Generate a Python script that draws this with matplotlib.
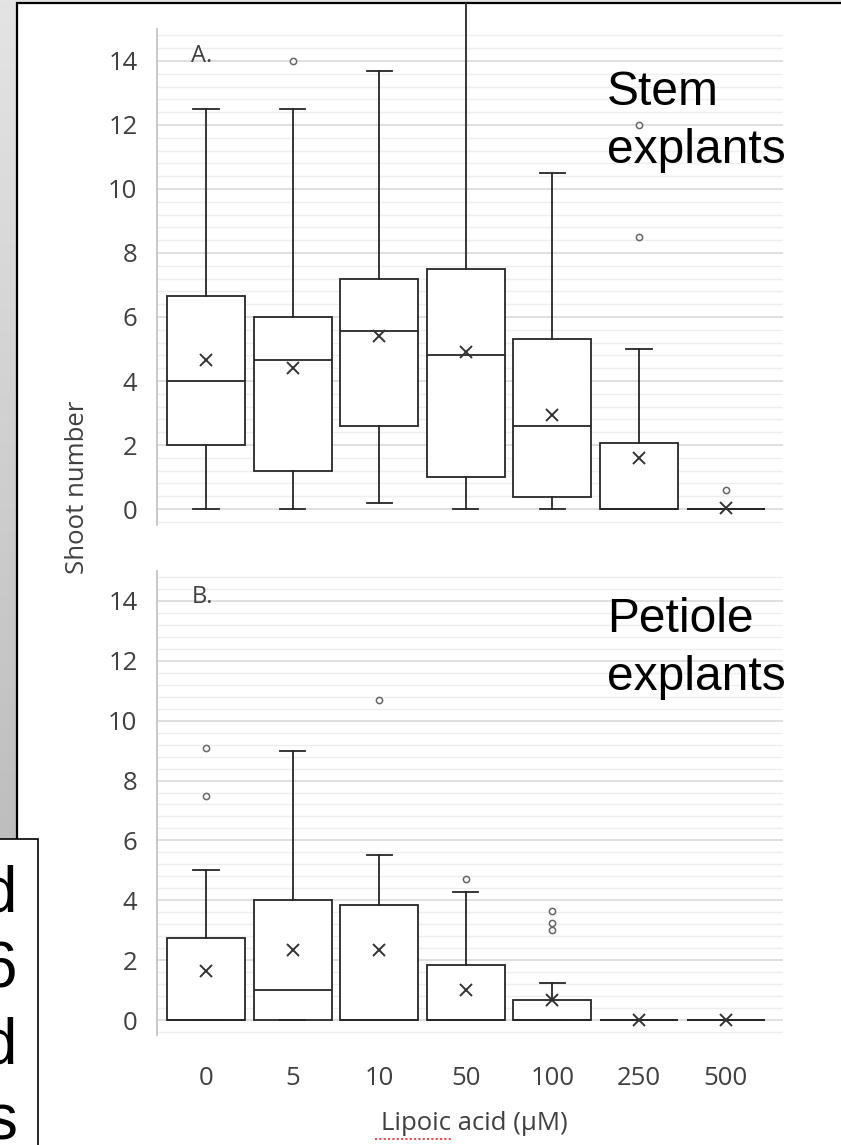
import matplotlib.pyplot as plt
import numpy as np
from matplotlib.patches import Rectangle
from matplotlib.ticker import MultipleLocator

# lipoic acid concentrations (uM)
concentrations = ['0', '5', '10', '50', '100', '250', '500']

# A. stem explants - box plot summary
stem_whislo = [0, 0, 0.2, 0, 0, 0, 0]
stem_q1 = [2.0, 1.2, 2.6, 1.0, 0.38, 0, 0]
stem_med = [4.0, 4.65, 5.55, 4.8, 2.6, 0, 0]
stem_q3 = [6.65, 6.0, 7.2, 7.5, 5.3, 2.05, 0]
stem_whishi = [12.5, 12.5, 13.7, 15.8, 10.5, 5.0, 0]
stem_mean = [4.65, 4.4, 5.4, 4.9, 2.95, 1.6, 0.04]
stem_fliers = [[], [14.0], [], [], [], [8.5, 12.0], [0.6]]

# B. petiole explants
pet_whislo = [0, 0, 0, 0, 0, 0, 0]
pet_q1 = [0, 0, 0, 0, 0, 0, 0]
pet_med = [0, 1.0, 0, 0, 0, 0, 0]
pet_q3 = [2.75, 4.0, 3.85, 1.85, 0.67, 0, 0]
pet_whishi = [5.0, 9.0, 5.5, 4.28, 1.25, 0, 0]
pet_mean = [1.65, 2.35, 2.35, 1.0, 0.67, 0, 0]
pet_fliers = [[7.5, 9.1], [], [10.7], [4.7], [3.0, 3.25, 3.65], [], []]

W, H = 841, 1145
FONT = 'Open Sans'
TXT = '#404040'

fig = plt.figure(figsize=(W / 100, H / 100), dpi=100)

# slide background / frame (pixel coords)
bg = fig.add_axes([0, 0, 1, 1], zorder=-10)
bg.set_xlim(0, W)
bg.set_ylim(H, 0)
bg.axis('off')
grad = np.linspace(0, 1, 256).reshape(-1, 1)
bg.imshow(grad, cmap=plt.matplotlib.colors.LinearSegmentedColormap.from_list('g', ['#e4e4e4', '#bebebe']),
          extent=[0, W, 840, 0], aspect='auto')
bg.add_patch(Rectangle((17, 3), W, H, facecolor='white', edgecolor='black', lw=1.6))
box = Rectangle((-5, 839), 43, 320, facecolor='white', edgecolor='black', lw=1.2, zorder=5)
bg.add_patch(box)
for letter, yb in zip(['d', '6', 'd', 's'], [912, 988, 1064, 1140]):
    t = bg.text(17, yb, letter, ha='right', va='baseline', fontsize=46,
                family='Liberation Sans', color='black', zorder=6)
    t.set_clip_path(box)
bg.plot([375, 452], [1139, 1139], color='#e04040', lw=1.3, ls=(0, (1.2, 1.2)))


def px(x, y):
    return x / W, 1 - y / H


# panel captions drawn above the gridlines
for txt, yb in [('Stem', 105), ('explants', 163), ('Petiole', 632), ('explants', 690)]:
    fig.text(*px(607, yb), txt, va='baseline', fontsize=34.5, family='Liberation Sans',
             color='black', zorder=20)

x_left, x_width = 157 / W, 626 / W
ax_a = fig.add_axes([x_left, 1 - 525 / H, x_width, 496 / H])
ax_b = fig.add_axes([x_left, 1 - 1035 / H, x_width, 464 / H])

panels = [
    (ax_a, 'A.', stem_whislo, stem_q1, stem_med, stem_q3, stem_whishi, stem_mean, stem_fliers),
    (ax_b, 'B.', pet_whislo, pet_q1, pet_med, pet_q3, pet_whishi, pet_mean, pet_fliers),
]

for ax, tag, wlo, q1, med, q3, whi, mean, fl in panels:
    stats = [dict(whislo=wlo[i], q1=q1[i], med=med[i], q3=q3[i], whishi=whi[i],
                  mean=mean[i], fliers=fl[i]) for i in range(len(concentrations))]
    art = ax.bxp(stats, positions=range(len(concentrations)), widths=0.9, capwidths=0.29,
                 showmeans=True, patch_artist=True,
                 boxprops=dict(facecolor='white', edgecolor='#262626', lw=1.3),
                 medianprops=dict(color='#262626', lw=1.3),
                 whiskerprops=dict(color='#262626', lw=1.3),
                 capprops=dict(color='#262626', lw=1.3),
                 meanprops=dict(marker='x', markersize=9, markeredgecolor='#333333',
                                markeredgewidth=1.4),
                 flierprops=dict(marker='o', markersize=4.5, markerfacecolor='white',
                                 markeredgecolor='#666666', markeredgewidth=1.1))
    for w in art['whiskers']:
        w.set_clip_on(False)
    ax.set_xlim(-0.566, 6.663)
    ax.set_ylim(-0.5, 15)
    ax.yaxis.set_major_locator(MultipleLocator(2))
    ax.yaxis.set_minor_locator(MultipleLocator(0.4))
    ax.set_yticks(range(0, 15, 2))
    ax.grid(which='major', axis='y', color='#d9d9d9', lw=1.2)
    ax.grid(which='minor', axis='y', color='#eeeeee', lw=1.0)
    ax.set_axisbelow(True)
    for s in ['top', 'right', 'bottom']:
        ax.spines[s].set_visible(False)
    ax.spines['left'].set_color('#bfbfbf')
    ax.spines['left'].set_linewidth(1.2)
    ax.tick_params(which='both', length=0)
    ax.tick_params(axis='y', pad=14, labelsize=18.5, labelcolor=TXT)
    for lab in ax.get_yticklabels():
        lab.set_family(FONT)
    ax.set_facecolor('none')
    ax.text(0.055, 0.97, tag, transform=ax.transAxes,
            fontsize=17, family=FONT, color=TXT, va='top')

ax_a.set_xticks([])
ax_b.set_xticks(range(len(concentrations)))
ax_b.set_xticklabels(concentrations, family=FONT, fontsize=18.5, color=TXT)
ax_b.tick_params(axis='x', pad=22)

fig.text(*px(77, 487), 'Shoot number', rotation=90, ha='center', va='center',
         fontsize=18.5, family=FONT, color=TXT)
fig.text(*px(474, 1123), 'Lipoic acid (\u03bcM)', ha='center', va='center',
         fontsize=18.5, family=FONT, color=TXT)

plt.savefig('out.png', dpi=100)
